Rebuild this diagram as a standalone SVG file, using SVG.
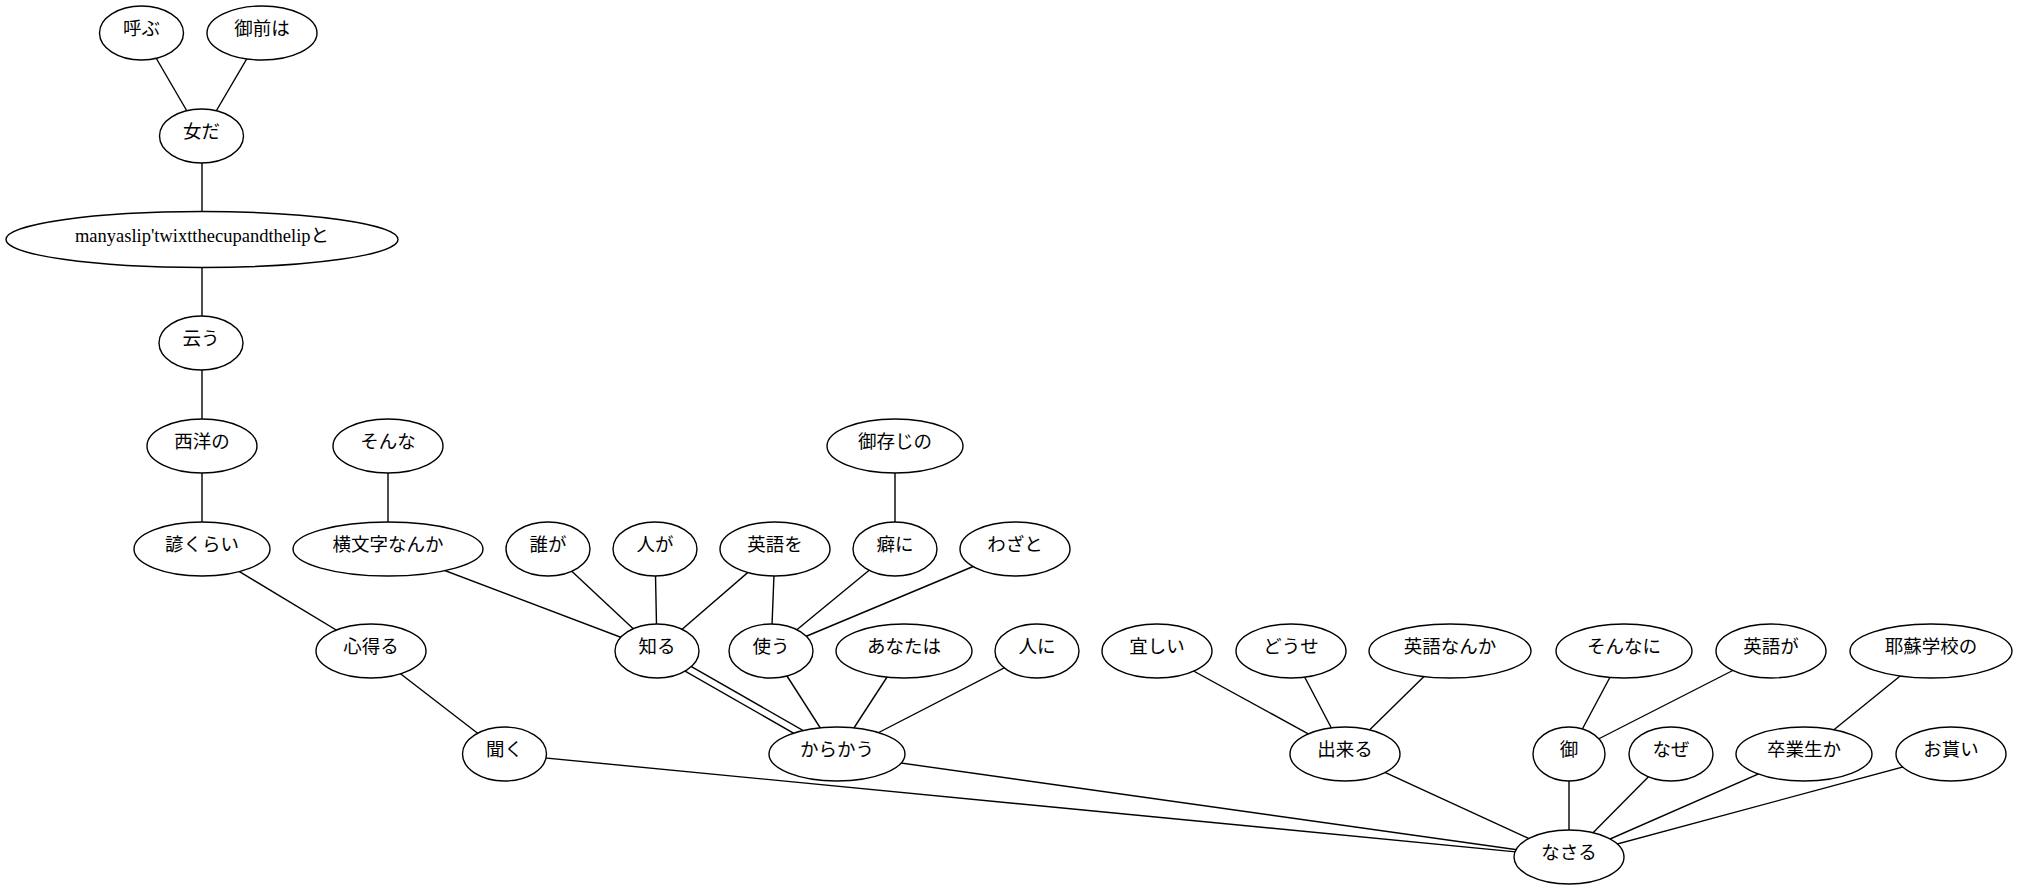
<svg xmlns="http://www.w3.org/2000/svg" width="2017" height="890" viewBox="0 0 2017 890">
<style>
  .n ellipse { fill: #ffffff; stroke: #000000; stroke-width: 1.4; }
  .n text { font-family: "Liberation Serif", "Noto Sans CJK JP", serif; font-size: 18.5px; text-anchor: middle; fill: #000000; }
  #edges line { stroke: #000000; stroke-width: 1.4; }
</style>
<rect x="0" y="0" width="2017" height="890" fill="#ffffff"/>
<g id="edges">
  <line x1="141.5" y1="33" x2="201.5" y2="136"/>
  <line x1="262" y1="33" x2="201.5" y2="136"/>
  <line x1="202" y1="136" x2="202" y2="239.5"/>
  <line x1="202" y1="239.5" x2="202" y2="343"/>
  <line x1="202" y1="343" x2="202" y2="446"/>
  <line x1="202" y1="446" x2="202" y2="549"/>
  <line x1="202" y1="549" x2="371" y2="651"/>
  <line x1="371" y1="651" x2="504.5" y2="754"/>
  <line x1="504.5" y1="754" x2="1569" y2="857"/>
  <line x1="388" y1="446" x2="388" y2="549"/>
  <line x1="388" y1="549" x2="657" y2="651"/>
  <line x1="548" y1="549" x2="657" y2="651"/>
  <line x1="655" y1="549" x2="657" y2="651"/>
  <line x1="775" y1="549" x2="657" y2="651"/>
  <line x1="775" y1="549" x2="771" y2="651"/>
  <line x1="895" y1="446" x2="895" y2="549"/>
  <line x1="895" y1="549" x2="771" y2="651"/>
  <line x1="1015" y1="549" x2="771" y2="651"/>
  <line x1="658.7" y1="647.9" x2="838.7" y2="750.9"/>
  <line x1="655.3" y1="654.1" x2="835.3" y2="757.1"/>
  <line x1="771" y1="651" x2="837" y2="754"/>
  <line x1="904" y1="651" x2="837" y2="754"/>
  <line x1="1037" y1="651" x2="837" y2="754"/>
  <line x1="837" y1="754" x2="1569" y2="857"/>
  <line x1="1157" y1="651" x2="1345" y2="754"/>
  <line x1="1291" y1="651" x2="1345" y2="754"/>
  <line x1="1450" y1="651" x2="1345" y2="754"/>
  <line x1="1345" y1="754" x2="1569" y2="857"/>
  <line x1="1624" y1="651" x2="1569" y2="754"/>
  <line x1="1771" y1="651" x2="1569" y2="754"/>
  <line x1="1569" y1="754" x2="1569" y2="857"/>
  <line x1="1671" y1="754" x2="1569" y2="857"/>
  <line x1="1931" y1="651" x2="1804" y2="754"/>
  <line x1="1804" y1="754" x2="1569" y2="857"/>
  <line x1="1951" y1="754" x2="1569" y2="857"/>
</g>
<g id="n_yobu" class="n"><ellipse cx="141.5" cy="33" rx="42" ry="27"/><text x="141.5" y="35">呼ぶ</text></g>
<g id="n_omaewa" class="n"><ellipse cx="262" cy="33" rx="55" ry="27"/><text x="262" y="35">御前は</text></g>
<g id="n_onnada" class="n"><ellipse cx="201.5" cy="136" rx="42" ry="27"/><text x="201.5" y="138">女だ</text></g>
<g id="n_slip" class="n"><ellipse cx="202" cy="239.5" rx="196" ry="28"/><text x="202" y="241.5">manyaslip'twixtthecupandthelipと</text></g>
<g id="n_iu" class="n"><ellipse cx="201" cy="343" rx="42" ry="27"/><text x="201" y="345">云う</text></g>
<g id="n_seiyou" class="n"><ellipse cx="202" cy="446" rx="55" ry="27"/><text x="202" y="448">西洋の</text></g>
<g id="n_kotowaza" class="n"><ellipse cx="202" cy="549" rx="68" ry="27"/><text x="202" y="551">諺くらい</text></g>
<g id="n_sonna" class="n"><ellipse cx="388" cy="446" rx="55" ry="27"/><text x="388" y="448">そんな</text></g>
<g id="n_yokomoji" class="n"><ellipse cx="388" cy="549" rx="95" ry="27"/><text x="388" y="551">横文字なんか</text></g>
<g id="n_darega" class="n"><ellipse cx="548" cy="549" rx="42" ry="27"/><text x="548" y="551">誰が</text></g>
<g id="n_hitoga" class="n"><ellipse cx="655" cy="549" rx="42" ry="27"/><text x="655" y="551">人が</text></g>
<g id="n_eigowo" class="n"><ellipse cx="775" cy="549" rx="55" ry="27"/><text x="775" y="551">英語を</text></g>
<g id="n_gozonji" class="n"><ellipse cx="895" cy="446" rx="68" ry="27"/><text x="895" y="448">御存じの</text></g>
<g id="n_kuseni" class="n"><ellipse cx="895" cy="549" rx="42" ry="27"/><text x="895" y="551">癖に</text></g>
<g id="n_wazato" class="n"><ellipse cx="1015" cy="549" rx="55" ry="27"/><text x="1015" y="551">わざと</text></g>
<g id="n_kokoroeru" class="n"><ellipse cx="371" cy="651" rx="55" ry="27"/><text x="371" y="653">心得る</text></g>
<g id="n_shiru" class="n"><ellipse cx="657" cy="651" rx="42" ry="27"/><text x="657" y="653">知る</text></g>
<g id="n_tsukau" class="n"><ellipse cx="771" cy="651" rx="42" ry="27"/><text x="771" y="653">使う</text></g>
<g id="n_anatawa" class="n"><ellipse cx="904" cy="651" rx="68" ry="27"/><text x="904" y="653">あなたは</text></g>
<g id="n_hitoni" class="n"><ellipse cx="1037" cy="651" rx="42" ry="27"/><text x="1037" y="653">人に</text></g>
<g id="n_yoroshii" class="n"><ellipse cx="1157" cy="651" rx="55" ry="27"/><text x="1157" y="653">宜しい</text></g>
<g id="n_douse" class="n"><ellipse cx="1291" cy="651" rx="55" ry="27"/><text x="1291" y="653">どうせ</text></g>
<g id="n_eigonanka" class="n"><ellipse cx="1450" cy="651" rx="81" ry="27"/><text x="1450" y="653">英語なんか</text></g>
<g id="n_sonnani" class="n"><ellipse cx="1624" cy="651" rx="68" ry="27"/><text x="1624" y="653">そんなに</text></g>
<g id="n_eigoga" class="n"><ellipse cx="1771" cy="651" rx="55" ry="27"/><text x="1771" y="653">英語が</text></g>
<g id="n_yaso" class="n"><ellipse cx="1931" cy="651" rx="81" ry="27"/><text x="1931" y="653">耶蘇学校の</text></g>
<g id="n_kiku" class="n"><ellipse cx="504.5" cy="754" rx="42" ry="27"/><text x="504.5" y="756">聞く</text></g>
<g id="n_karakau" class="n"><ellipse cx="837" cy="754" rx="68" ry="27"/><text x="837" y="756">からかう</text></g>
<g id="n_dekiru" class="n"><ellipse cx="1345" cy="754" rx="55" ry="27"/><text x="1345" y="756">出来る</text></g>
<g id="n_go" class="n"><ellipse cx="1569" cy="754" rx="36" ry="27"/><text x="1569" y="756">御</text></g>
<g id="n_naze" class="n"><ellipse cx="1671" cy="754" rx="42" ry="27"/><text x="1671" y="756">なぜ</text></g>
<g id="n_sotsugyou" class="n"><ellipse cx="1804" cy="754" rx="68" ry="27"/><text x="1804" y="756">卒業生か</text></g>
<g id="n_omorai" class="n"><ellipse cx="1951" cy="754" rx="55" ry="27"/><text x="1951" y="756">お貰い</text></g>
<g id="n_nasaru" class="n"><ellipse cx="1569" cy="857" rx="55" ry="27"/><text x="1569" y="859">なさる</text></g>
</svg>
